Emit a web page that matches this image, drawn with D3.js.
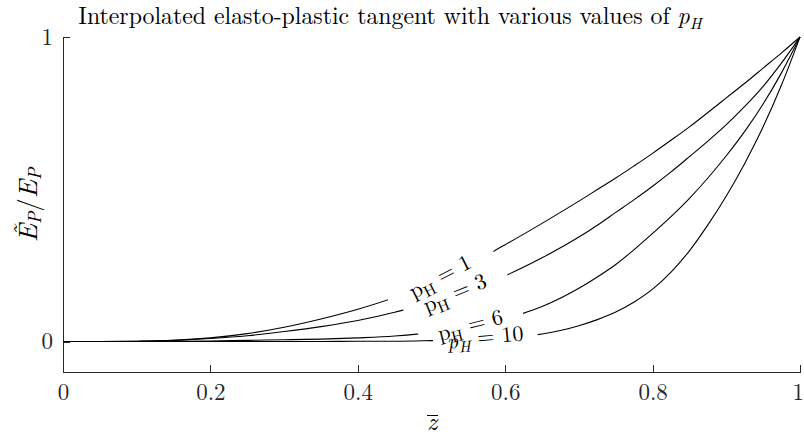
<!DOCTYPE html>
<html>
<head>
<meta charset="utf-8">
<script src="https://cdn.jsdelivr.net/npm/d3@7"></script>
<style>
  body { margin: 0; background: #fff; }
</style>
</head>
<body>
<svg width="804" height="439"></svg>
<script>
// z-bar sample positions
var zVals = [0, 0.05, 0.1, 0.15, 0.2, 0.25, 0.3, 0.35, 0.4, 0.45, 0.5, 0.55, 0.6, 0.65, 0.7,
             0.725, 0.75, 0.775, 0.8, 0.825, 0.85, 0.875, 0.9, 0.925, 0.95, 0.975, 1];

// E_P tilde / E_P, one list per p_H
var pH1  = [0, 0, 0.001, 0.004, 0.012, 0.026, 0.047, 0.074, 0.106, 0.145, 0.195, 0.252, 0.318, 0.388, 0.461,
            0.499, 0.537, 0.577, 0.618, 0.661, 0.705, 0.752, 0.800, 0.848, 0.898, 0.948, 1];
var pH3  = [0, 0, 0.001, 0.004, 0.010, 0.019, 0.033, 0.049, 0.069, 0.096, 0.130, 0.168, 0.216, 0.275, 0.343,
            0.382, 0.424, 0.466, 0.510, 0.557, 0.607, 0.658, 0.712, 0.772, 0.838, 0.915, 1];
var pH6  = [0, 0, 0, 0.001, 0.002, 0.004, 0.006, 0.008, 0.012, 0.018, 0.030, 0.048, 0.075, 0.115, 0.175,
            0.212, 0.253, 0.302, 0.355, 0.410, 0.470, 0.537, 0.610, 0.690, 0.780, 0.883, 1];
var pH10 = [0, 0, 0, 0, 0, 0, 0, 0, 0.001, 0.001, 0.003, 0.006, 0.012, 0.025, 0.052,
            0.072, 0.097, 0.130, 0.172, 0.228, 0.298, 0.383, 0.478, 0.585, 0.705, 0.843, 1];

var pValues = [1, 3, 6, 10];
var xTicks = [0, 0.2, 0.4, 0.6, 0.8, 1];
var yTicks = [0, 1];

// pick the first serif face that is really there
var candidates = ["Latin Modern Roman", "CMU Serif", "Liberation Serif", "DejaVu Serif", "Noto Serif"];
function hasFont(name) {
  var c = document.createElement("canvas").getContext("2d");
  var s = "Interpolated elasto-plastic 0.123 WMil";
  c.font = "40px monospace"; var w0 = c.measureText(s).width;
  c.font = "40px '" + name + "', monospace"; var w1 = c.measureText(s).width;
  c.font = "40px sans-serif"; var w2 = c.measureText(s).width;
  c.font = "40px '" + name + "', sans-serif"; var w3 = c.measureText(s).width;
  return w0 !== w1 || w2 !== w3;
}
var found = candidates.filter(hasFont);
var serif = (found.length ? "'" + found[0] + "', " : "") + "serif";

var svg = d3.select("svg")
    .style("font-family", serif),
    margin = {left: 63, right: 4, top: 37, bottom: 67},
    width = +svg.attr("width"),
    height = +svg.attr("height");

var x = d3.scaleLinear().domain([0, 1]).range([margin.left, width - margin.right]);
var y = d3.scaleLinear().domain([-0.1, 1]).range([height - margin.bottom, margin.top]);

var series = [pH1, pH3, pH6, pH10].map(function(vals, i) {
  return {
    p: pValues[i],
    points: zVals.map(function(z, j) { return [z, vals[j]]; })
  };
});

// where the inline labels sit (gap in the line, in z) and their tilt
var labelInfo = [
  {gap: [0.441, 0.584], angle: -27, italic: false},
  {gap: [0.462, 0.603], angle: -22, italic: false},
  {gap: [0.482, 0.624], angle: -14, italic: false},
  {gap: [0.502, 0.644], angle: -5,  italic: true}
];

var line = d3.line()
  .x(function(d) { return x(d[0]); })
  .y(function(d) { return y(d[1]); })
  .curve(d3.curveMonotoneX);

var defs = svg.append("defs");

// axes, MATLAB style ticks pointing inwards
var xAxis = svg.append("g")
  .attr("transform", "translate(0," + y(-0.1) + ")")
  .call(d3.axisBottom(x).tickValues(xTicks).tickFormat(d3.format("")).tickSize(-7).tickSizeOuter(0).tickPadding(12));
var yAxis = svg.append("g")
  .attr("transform", "translate(" + x(0) + ",0)")
  .call(d3.axisLeft(y).tickValues(yTicks).tickFormat(d3.format("")).tickSize(-7).tickSizeOuter(0).tickPadding(10));

[xAxis, yAxis].forEach(function(a) {
  a.attr("font-family", null);
  a.select(".domain").attr("stroke", "#262626").attr("shape-rendering", "crispEdges");
  a.selectAll(".tick line").attr("stroke", "#262626").attr("shape-rendering", "crispEdges");
  a.selectAll(".tick text")
    .attr("font-size", 23)
    .attr("fill", "#262626");
});
xAxis.selectAll(".tick text").filter(function(d) { return d === 1; }).attr("dx", "-0.1em");

// curves, each split around its label
series.forEach(function(s, i) {
  var info = labelInfo[i];
  var clipL = "clipL" + i, clipR = "clipR" + i;
  defs.append("clipPath").attr("id", clipL).append("rect")
    .attr("x", 0).attr("y", 0).attr("width", x(info.gap[0])).attr("height", height);
  defs.append("clipPath").attr("id", clipR).append("rect")
    .attr("x", x(info.gap[1])).attr("y", 0).attr("width", width - x(info.gap[1])).attr("height", height);

  [clipL, clipR].forEach(function(c) {
    svg.append("path")
      .datum(s.points)
      .attr("clip-path", "url(#" + c + ")")
      .attr("fill", "none")
      .attr("stroke", "#000")
      .attr("stroke-width", 1.1)
      .attr("d", line);
  });

  // label centred in the gap, on the curve
  var zc = (info.gap[0] + info.gap[1]) / 2;
  var yc = d3.scaleLinear().domain(zVals).range(s.points.map(function(d) { return d[1]; }))(zc);
  var t = svg.append("text")
    .attr("transform", "translate(" + x(zc) + "," + y(yc) + ") rotate(" + info.angle + ")")
    .attr("text-anchor", "middle")
    .attr("dy", "0.3em")
    .attr("font-size", 22);
  t.append("tspan").attr("font-style", info.italic ? "italic" : "normal").text("p");
  t.append("tspan").attr("font-style", info.italic ? "italic" : "normal")
    .attr("font-size", 16).attr("dy", "0.3em").text("H");
  t.append("tspan").attr("dy", "-0.3em").text(" = " + s.p);
});

// title, fitted to the width it has in the figure
var title = svg.append("text")
  .attr("x", 390)
  .attr("y", 24)
  .attr("text-anchor", "middle")
  .attr("font-size", 23);
title.append("tspan").text("Interpolated elasto-plastic tangent with various values of ");
title.append("tspan").attr("font-style", "italic").text("p");
title.append("tspan").attr("font-style", "italic").attr("font-size", 16).attr("dy", 5).text("H");
var tw = title.node().getComputedTextLength();
title.attr("font-size", 23 * 624 / tw);

// y label
var yl = svg.append("text")
  .attr("transform", "translate(37,205) rotate(-90)")
  .attr("text-anchor", "middle")
  .attr("font-size", 27);
yl.append("tspan").attr("font-style", "italic").text("\u1EBC");
yl.append("tspan").attr("font-style", "italic").attr("font-size", 18).attr("dy", 4).text("P");
yl.append("tspan").attr("dy", -4).text("/");
yl.append("tspan").attr("font-style", "italic").text("E");
yl.append("tspan").attr("font-style", "italic").attr("font-size", 18).attr("dy", 4).text("P");

// x label: z with a bar
svg.append("text")
  .attr("x", 432)
  .attr("y", 430)
  .attr("text-anchor", "middle")
  .attr("font-size", 25)
  .attr("font-style", "italic")
  .text("z");
svg.append("line")
  .attr("x1", 427).attr("x2", 438)
  .attr("y1", 415.5).attr("y2", 415.5)
  .attr("stroke", "#000").attr("stroke-width", 1);
</script>
</body>
</html>
